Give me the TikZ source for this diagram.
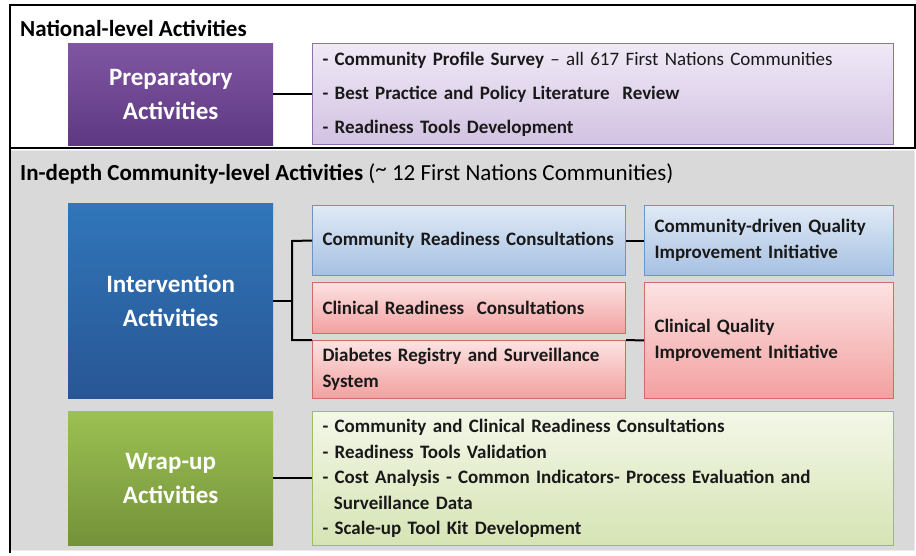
\documentclass[tikz,border=0pt]{standalone}
\usepackage{fontspec}
\setmainfont{Carlito}
\usepackage{tikz}
\definecolor{panelGrey}{RGB}{217, 217, 217}
\definecolor{prepTop}{RGB}{128, 86, 162}
\definecolor{prepBot}{RGB}{94, 56, 130}
\definecolor{intTop}{RGB}{48, 118, 186}
\definecolor{intBot}{RGB}{40, 86, 148}
\definecolor{wrapTop}{RGB}{156, 192, 82}
\definecolor{wrapBot}{RGB}{116, 146, 58}
\definecolor{lavTop}{RGB}{240, 233, 246}
\definecolor{lavBot}{RGB}{210, 194, 226}
\definecolor{lavLine}{RGB}{140, 112, 178}
\definecolor{skyTop}{RGB}{224, 234, 246}
\definecolor{skyBot}{RGB}{166, 192, 226}
\definecolor{skyLine}{RGB}{108, 148, 200}
\definecolor{roseTop}{RGB}{252, 226, 226}
\definecolor{roseBot}{RGB}{243, 160, 160}
\definecolor{roseLine}{RGB}{214, 104, 104}
\definecolor{limeTop}{RGB}{243, 247, 232}
\definecolor{limeBot}{RGB}{214, 228, 180}
\definecolor{limeLine}{RGB}{158, 190, 92}

\begin{document}
\begin{tikzpicture}[x=1pt, y=-1pt,
    headBox/.style={anchor=north west, inner sep=0pt, minimum width=205pt,
      align=center, text=white, font=\bfseries\fontsize{25}{34}\selectfont},
    itemBox/.style={anchor=north west, inner xsep=10pt, inner ysep=0pt,
      align=left, text=black!90, font=\bfseries\fontsize{19}{25.5}\selectfont},
    link/.style={line width=2pt, black}]
  % frame and panels
  \useasboundingbox (0,0) rectangle (916,555);
  \fill[panelGrey] (11,150) rectangle (914,550);
  \draw[white!92!black, line width=0.8pt] (12,150) -- (914,150) -- (914,550) -- (12,550);
  \draw[line width=2.5pt, fill=white] (10,5) rectangle (915,148);
  \draw[line width=2.5pt] (10,148) -- (10,553);
  \node[anchor=base west, inner sep=0pt, font=\bfseries\fontsize{23}{26}\selectfont]
    (natTitle) at (20,36) {National-level Activities};
  \node[anchor=base west, inner sep=0pt, font=\fontsize{23}{26}\selectfont]
    (comTitle) at (20,180) {\textbf{In-depth Community-level Activities} (\raisebox{0.3ex}{\textasciitilde} 12 First Nations Communities)};

  % national level
  \node[headBox, minimum height=102pt, top color=prepTop, bottom color=prepBot]
    (prep) at (68,43) {Preparatory\\Activities};
  \node[itemBox, minimum width=581pt, minimum height=101pt, text width=561pt,
    top color=lavTop, bottom color=lavBot, draw=lavLine, line width=1pt,
    font=\bfseries\fontsize{19}{34}\selectfont]
    (prepList) at (312,43) {- Community Profile Survey {\mdseries -- all 617 First Nations Communities}\\
      - Best Practice and Policy Literature \ Review\\
      - Readiness Tools Development};

  % community level
  \node[headBox, minimum height=195pt, top color=intTop, bottom color=intBot]
    (interv) at (68,203) {Intervention\\Activities};
  \node[itemBox, minimum width=313pt, minimum height=70pt, text width=293pt,
    top color=skyTop, bottom color=skyBot, draw=skyLine, line width=1pt]
    (commCons) at (312,205) {Community Readiness Consultations};
  \node[itemBox, minimum width=313pt, minimum height=51pt, text width=293pt,
    top color=roseTop, bottom color=roseBot, draw=roseLine, line width=1pt]
    (clinCons) at (312,282) {Clinical Readiness \ Consultations};
  \node[itemBox, minimum width=313pt, minimum height=58pt, text width=293pt,
    top color=roseTop, bottom color=roseBot, draw=roseLine, line width=1pt]
    (diabReg) at (312,340) {Diabetes Registry and Surveillance\\System};
  \node[itemBox, minimum width=249pt, minimum height=70pt, text width=229pt,
    top color=skyTop, bottom color=skyBot, draw=skyLine, line width=1pt]
    (commQI) at (644,205) {Community-driven Quality\\Improvement Initiative};
  \node[itemBox, minimum width=249pt, minimum height=116pt, text width=229pt,
    top color=roseTop, bottom color=roseBot, draw=roseLine, line width=1pt]
    (clinQI) at (644,282) {Clinical Quality\\Improvement Initiative};

  \node[headBox, minimum height=134pt, top color=wrapTop, bottom color=wrapBot]
    (wrap) at (68,411) {Wrap-up\\Activities};
  \node[itemBox, minimum width=581pt, minimum height=134pt, text width=561pt,
    top color=limeTop, bottom color=limeBot, draw=limeLine, line width=1pt]
    (wrapList) at (312,411) {- Community and Clinical Readiness Consultations\\
      - Readiness Tools Validation\\
      - Cost Analysis - Common Indicators- Process Evaluation and\\
      \hspace*{0.6em}Surveillance Data\\
      - Scale-up Tool Kit Development};

  % connectors
  \coordinate (forkTop) at (292,241);
  \coordinate (forkBot) at (292,340);
  \draw[link, line width=2.5pt] (prep.east) -- (prep.east -| prepList.west);
  \draw[link] (interv.east) -- (interv.east -| forkTop);
  \draw[link] (commCons.west) -- (forkTop) -- (forkBot) -- (diabReg.north west);
  \draw[link] (commCons.east) -- (commQI.west);
  \draw[link] (diabReg.north east) -- (clinQI.west);
  \draw[link, line width=2.5pt] (wrap.east) -- (wrap.east -| wrapList.west);
\end{tikzpicture}
\end{document}
